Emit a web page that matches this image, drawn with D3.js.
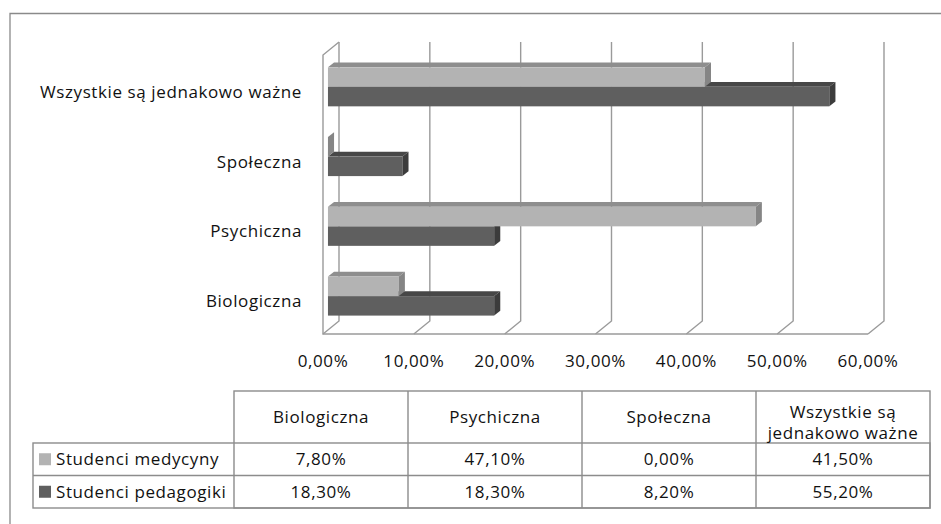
<!DOCTYPE html>
<html>
<head>
<meta charset="utf-8">
<script src="https://cdn.jsdelivr.net/npm/d3@7"></script>
<style>
  body { margin: 0; background: #fff; }
  svg { display: block; font-family: "Open Sans", sans-serif; }
  text { letter-spacing: 0.6px; }
</style>
</head>
<body>
<svg width="941" height="524"></svg>
<script>
var categories = ["Biologiczna", "Psychiczna", "Społeczna", "Wszystkie są jednakowo ważne"];
var headerLines = [["Biologiczna"], ["Psychiczna"], ["Społeczna"], ["Wszystkie są", "jednakowo ważne"]];
var seriesNames = ["Studenci medycyny", "Studenci pedagogiki"];
var medycyny = [7.8, 47.1, 0.0, 41.5];
var pedagogiki = [18.3, 18.3, 8.2, 55.2];
var xTicks = [0, 10, 20, 30, 40, 50, 60];

var series = [
    { name: seriesNames[0], values: medycyny, front: "#b3b3b3", top: "#8e8e8e", side: "#858585" },
    { name: seriesNames[1], values: pedagogiki, front: "#5f5f5f", top: "#474747", side: "#3c3c3c" }
];

var svg = d3.select("svg");
var FS = 17;

// 3d depth vector (front -> back wall)
var DX = 16, DY = 13;
var F1 = 0.31, F2 = 0.69;   // bar sits in the middle of the depth

var xBack = d3.scaleLinear().domain([0, 60]).range([339, 884]);
function xFront(v) { return xBack(v) - DX; }
var backTop = 42, backBottom = 321, floorY = 334;

// categories top->bottom in front plane
var y = d3.scaleBand()
    .domain(categories.slice().reverse())
    .range([56, 335]);
var yS = d3.scaleBand()
    .domain(seriesNames)
    .range([-19.5, 19.5]);

function proj(v, yy, f) {
    return [xFront(v) + DX * f, yy - DY * f];
}

// outer frame
svg.append("path")
    .attr("d", "M10,530V13.5H945")
    .attr("fill", "none")
    .attr("stroke", "#8a8a8a")
    .attr("stroke-width", 1.3);

// walls and gridlines
var grid = svg.append("g")
    .attr("fill", "none")
    .attr("stroke", "#9a9a9a")
    .attr("stroke-width", 1.4);

grid.selectAll("polyline.grid")
    .data(xTicks)
    .enter().append("polyline")
    .attr("class", "grid")
    .attr("points", function (d) {
        return [[xBack(d), backTop], [xBack(d), backBottom], [xFront(d), floorY]].join(" ");
    });

grid.append("polyline")
    .attr("points", [[xBack(0), backTop], [xFront(0), backTop + DY], [xFront(0), floorY], [xFront(60), floorY]].join(" "));

// bars, drawn bottom category first, dark series under light series
var bars = svg.append("g");
var order = [];
categories.forEach(function (c, i) {
    order.push({ cat: c, s: series[1], v: series[1].values[i] });
    order.push({ cat: c, s: series[0], v: series[0].values[i] });
});

order.forEach(function (d) {
    var yt = y(d.cat) + y.bandwidth() / 2 + yS(d.s.name);
    var yb = yt + yS.bandwidth();
    var g = bars.append("g");
    var a = proj(0, yt, F1), b = proj(d.v, yt, F1), c = proj(d.v, yt, F2), e = proj(0, yt, F2);
    var bb = proj(d.v, yb, F1), cb = proj(d.v, yb, F2);
    g.append("polygon")
        .attr("points", [a, b, c, e].join(" "))
        .attr("fill", d.s.top);
    g.append("rect")
        .attr("x", a[0])
        .attr("y", a[1])
        .attr("width", b[0] - a[0])
        .attr("height", yb - yt)
        .attr("fill", d.s.front);
    g.append("polygon")
        .attr("points", [b, bb, cb, c].join(" "))
        .attr("fill", d.s.side);
});

// category labels
svg.append("g")
    .selectAll("text")
    .data(categories)
    .enter().append("text")
    .attr("x", 302)
    .attr("y", function (d) { return y(d) + y.bandwidth() / 2 + 1; })
    .attr("dy", "0.35em")
    .attr("text-anchor", "end")
    .attr("font-size", FS)
    .attr("fill", "#111")
    .text(function (d) { return d; });

// x tick labels
var fmt = function (d) { return d3.format(".2f")(d).replace(".", ",") + "%"; };
svg.append("g")
    .selectAll("text")
    .data(xTicks)
    .enter().append("text")
    .attr("x", function (d) { return xFront(d); })
    .attr("y", 361)
    .attr("dy", "0.35em")
    .attr("text-anchor", "middle")
    .attr("font-size", FS)
    .attr("fill", "#111")
    .text(fmt);

// data table
var colX = d3.scaleBand().domain(categories).range([234, 930]);
var headTop = 391, headBottom = 443;
var rowY = d3.scaleBand().domain(seriesNames).range([443, 508]);
var legendLeft = 33;

var table = svg.append("g");
var lines = table.append("g")
    .attr("stroke", "#8c8c8c")
    .attr("stroke-width", 1.4)
    .attr("fill", "none");

lines.append("rect")
    .attr("x", colX.range()[0]).attr("y", headTop)
    .attr("width", colX.range()[1] - colX.range()[0])
    .attr("height", rowY.range()[1] - headTop);
lines.append("rect")
    .attr("x", legendLeft).attr("y", headBottom)
    .attr("width", colX.range()[1] - legendLeft)
    .attr("height", rowY.range()[1] - headBottom);
lines.selectAll("line.col")
    .data(categories.slice(1))
    .enter().append("line")
    .attr("x1", function (d) { return colX(d); })
    .attr("x2", function (d) { return colX(d); })
    .attr("y1", headTop).attr("y2", rowY.range()[1]);
lines.append("line")
    .attr("x1", legendLeft).attr("x2", colX.range()[1])
    .attr("y1", rowY(seriesNames[1])).attr("y2", rowY(seriesNames[1]));

// header text (one text element, wrapped with tspans)
categories.forEach(function (c, i) {
    var ls = headerLines[i];
    var t = table.append("text")
        .attr("x", colX(c) + colX.bandwidth() / 2)
        .attr("y", ls.length > 1 ? 412 : 417)
        .attr("dy", "0.35em")
        .attr("text-anchor", "middle")
        .attr("font-size", FS)
        .attr("fill", "#111");
    ls.forEach(function (s, j) {
        t.append("tspan")
            .attr("x", colX(c) + colX.bandwidth() / 2)
            .attr("dy", j === 0 ? "0.35em" : "21px")
            .text(s);
    });
});

// rows
series.forEach(function (s) {
    var cy = rowY(s.name) + rowY.bandwidth() / 2;
    table.append("rect")
        .attr("x", 39).attr("y", cy - 6)
        .attr("width", 12).attr("height", 12)
        .attr("fill", s.front);
    table.append("text")
        .attr("x", 56).attr("y", cy)
        .attr("dy", "0.35em")
        .attr("font-size", FS)
        .attr("fill", "#111")
        .text(s.name);
    table.selectAll(null)
        .data(s.values)
        .enter().append("text")
        .attr("x", function (d, i) { return colX(categories[i]) + colX.bandwidth() / 2; })
        .attr("y", cy)
        .attr("dy", "0.35em")
        .attr("text-anchor", "middle")
        .attr("font-size", FS)
        .attr("fill", "#111")
        .text(fmt);
});
</script>
</body>
</html>
